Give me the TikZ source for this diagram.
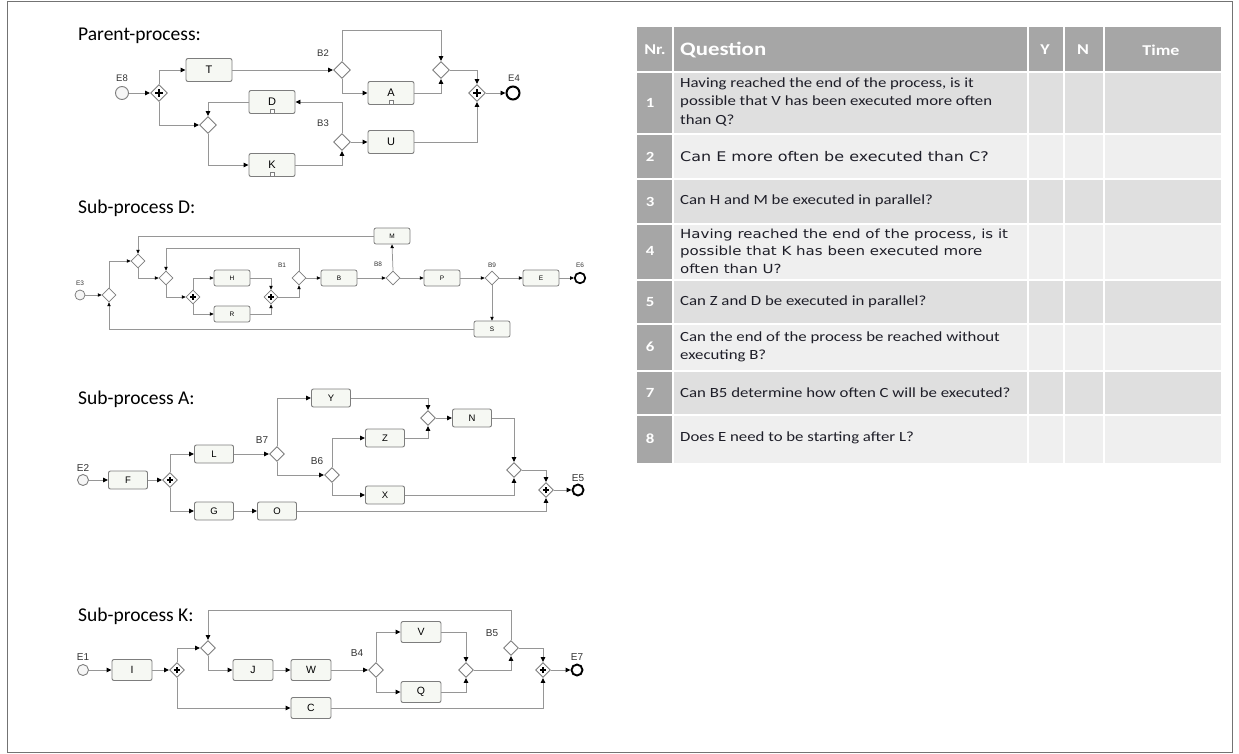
\documentclass[tikz,border=0pt]{standalone}
\usepackage{fontspec}
\usetikzlibrary{shapes.geometric,arrows.meta,calc}
\setmainfont{Liberation Sans}
\newfontfamily\calfont{Carlito}
\newfontfamily\tabfont[FakeStretch=1.2]{Carlito}
\newfontfamily\verfont[FakeStretch=1.2]{DejaVu Sans}
\definecolor{linegray}{RGB}{150,150,150}
\definecolor{boxgray}{RGB}{125,125,125}
\definecolor{taskfill}{RGB}{246,248,243}
\definecolor{hdrgray}{RGB}{166,166,166}
\definecolor{rowA}{RGB}{223,223,223}
\definecolor{rowB}{RGB}{239,239,239}
\definecolor{txtdark}{RGB}{30,30,40}
\begin{document}
\begin{tikzpicture}[x=1pt,y=-1pt,
  flow/.style={draw=linegray,line width=0.9pt,-{Triangle[length=5pt,width=4.5pt,color=black]}},
  flowS/.style={draw=linegray,line width=0.75pt,-{Triangle[length=3.8pt,width=3.4pt,color=black]}},
  task/.style={draw=boxgray,fill=taskfill,rounded corners=2pt,line width=0.9pt,inner sep=0pt},
  taskP/.style={task,minimum width=46pt,minimum height=23pt,font=\fontsize{11}{11}\selectfont},
  taskD/.style={task,minimum width=36pt,minimum height=16pt,line width=0.75pt,font=\fontsize{6.5}{6.5}\selectfont},
  taskA/.style={task,minimum width=39pt,minimum height=18pt,font=\fontsize{9.5}{9.5}\selectfont},
  taskK/.style={task,minimum width=40pt,minimum height=21pt,font=\fontsize{10.5}{10.5}\selectfont},
  gw/.style={diamond,draw=boxgray,fill=white,line width=0.9pt,inner sep=0pt,aspect=1},
  xorP/.style={gw,minimum width=17pt,minimum height=17pt},
  andP/.style={xorP,path picture={\draw[black,line width=1.7pt] (path picture bounding box.center) +(-3.8pt,0) -- +(3.8pt,0) +(0,-3.8pt) -- +(0,3.8pt);}},
  xorD/.style={gw,line width=0.75pt,minimum width=14pt,minimum height=14pt},
  andD/.style={xorD,path picture={\draw[black,line width=1.4pt] (path picture bounding box.center) +(-3pt,0) -- +(3pt,0) +(0,-3pt) -- +(0,3pt);}},
  xorA/.style={gw,minimum width=15pt,minimum height=15pt},
  andA/.style={xorA,path picture={\draw[black,line width=1.5pt] (path picture bounding box.center) +(-3.3pt,0) -- +(3.3pt,0) +(0,-3.3pt) -- +(0,3.3pt);}},
  startev/.style={circle,draw=boxgray,fill=white!93!gray,line width=0.9pt,inner sep=0pt},
  endev/.style={circle,draw=black,line width=2pt,fill=white,inner sep=0pt},
  lbl/.style={inner sep=0pt,text=black!80,font=\fontsize{9.5}{9.5}\selectfont},
  lblD/.style={lbl,font=\fontsize{6.5}{6.5}\selectfont},
  lblA/.style={lbl,font=\fontsize{10}{10}\selectfont},
  marker/.style={draw=boxgray,fill=white,minimum size=3.5pt,inner sep=0pt,line width=0.4pt},
  title/.style={font=\calfont\fontsize{19.5}{19.5}\selectfont,anchor=base west,inner sep=0pt},
  tq/.style={anchor=west,inner sep=0pt,align=left,text=txtdark,font=\tabfont\fontsize{14}{18.5}\selectfont},
  tv/.style={anchor=west,inner sep=0pt,align=left,text=txtdark,font=\verfont\fontsize{12.5}{17.5}\selectfont},
  tn/.style={inner sep=0pt,text=white,font=\tabfont\bfseries\fontsize{14}{14}\selectfont},
  th/.style={inner sep=0pt,text=white,font=\tabfont\bfseries\fontsize{15}{15}\selectfont}
]
\useasboundingbox (0,0) rectangle (1239,753);
\draw[black!55,line width=0.8pt] (7,1) rectangle (1232,752);

%================ Parent process
\node[title] (tP) at (78,40) {Parent-process:};
\node[startev,minimum size=13pt] (E8) at (122,93) {};
\node[lbl] (E8l) at (122,78) {E8};
\node[andP] (P1) at (159,93) {};
\node[taskP] (T) at (209,70) {T};
\node[xorP] (B2) at (342,70) {};
\node[lbl] (B2l) at (323,53) {B2};
\node[xorP] (G1) at (208,125) {};
\node[taskP] (D) at (272,102) {D};
\node[marker] (Dm) at ($(D.south)+(0,-3)$) {};
\node[taskP] (K) at (272,165) {K};
\node[marker] (Km) at ($(K.south)+(0,-3)$) {};
\node[xorP] (B3) at (342,142) {};
\node[lbl] (B3l) at (323,123) {B3};
\node[taskP] (A) at (391,93) {A};
\node[marker] (Am) at ($(A.south)+(0,-3)$) {};
\node[taskP] (U) at (391,142) {U};
\node[xorP] (J1) at (441,70) {};
\node[andP] (P2) at (477,93) {};
\node[endev,minimum size=13pt] (E4) at (513,93) {};
\node[lbl] (E4l) at (514,78) {E4};
\coordinate (c2) at (441,30);

\draw[flow] (E8) -- (P1);
\draw[flow] (P1.north) |- (T.west);
\draw[flow] (T) -- (B2);
\draw[flow] (P1.south) |- (G1.west);
\draw[flow] (D.west) -| (G1.north);
\draw[flow] (G1.south) |- (K.west);
\draw[flow] (K.east) -| (B3.south);
\draw[flow] (B3.north) |- (D.east);
\draw[flow] (B2.north) |- (c2) -- (J1.north);
\draw[flow] (B2.south) |- (A.west);
\draw[flow] (A.east) -| (J1.south);
\draw[flow] (B3) -- (U);
\draw[flow] (J1.east) -| (P2.north);
\draw[flow] (U.east) -| (P2.south);
\draw[flow] (P2) -- (E4);

%================ Sub-process D
\node[title] (tD) at (78,213) {Sub-process D:};
\node[startev,minimum size=10pt,line width=0.75pt] (E3) at (80,295) {};
\node[lblD] (E3l) at (80,283) {E3};
\node[xorD] (G1d) at (109,295) {};
\node[xorD] (G2d) at (138,261) {};
\node[xorD] (G3d) at (166,278) {};
\node[andD] (P1d) at (193,297) {};
\node[taskD] (H) at (232,278) {H};
\node[taskD] (R) at (232,314) {R};
\node[andD] (P2d) at (271,297) {};
\node[xorD] (B1) at (299,278) {};
\node[lblD] (B1l) at (282,265) {B1};
\node[taskD] (Bt) at (339,278) {B};
\node[xorD] (B8) at (393,278) {};
\node[lblD] (B8l) at (378,264) {B8};
\node[taskD] (M) at (392,236) {M};
\node[taskD] (Pt) at (442,278) {P};
\node[xorD] (B9) at (492,278) {};
\node[lblD] (B9l) at (492,265) {B9};
\node[taskD] (Et) at (541,278) {E};
\node[endev,minimum size=10.5pt,line width=1.7pt] (E6) at (580,278) {};
\node[lblD] (E6l) at (580,265) {E6};
\node[taskD] (S) at (492,329) {S};
\coordinate (d1) at (166,248);

\draw[flowS] (E3) -- (G1d);
\draw[flowS] (G1d.north) |- (G2d.west);
\draw[flowS] (M.west) -| (G2d.north);
\draw[flowS] (G2d.south) |- (G3d.west);
\draw[flowS] (B1.north) |- (d1) -- (G3d.north);
\draw[flowS] (G3d.south) |- (P1d.west);
\draw[flowS] (P1d.north) |- (H.west);
\draw[flowS] (P1d.south) |- (R.west);
\draw[flowS] (H.east) -| (P2d.north);
\draw[flowS] (R.east) -| (P2d.south);
\draw[flowS] (P2d.east) -| (B1.south);
\draw[flowS] (B1) -- (Bt);
\draw[flowS] (Bt) -- (B8);
\draw[flowS] (B8.north) -- (M.south);
\draw[flowS] (B8) -- (Pt);
\draw[flowS] (Pt) -- (B9);
\draw[flowS] (B9) -- (Et);
\draw[flowS] (Et) -- (E6);
\draw[flowS] (B9.south) -- (S.north);
\draw[flowS] (S.west) -| (G1d.south);

%================ Sub-process A
\node[title] (tA) at (78,404) {Sub-process A:};
\node[startev,minimum size=11pt] (E2) at (83,480) {};
\node[lblA] (E2l) at (83,468) {E2};
\node[taskA] (F) at (128,480) {F};
\node[andA] (P1a) at (170,480) {};
\node[taskA] (L) at (214,454) {L};
\node[xorA] (B7) at (277,454) {};
\node[lblA] (B7l) at (262,440) {B7};
\node[taskA] (Y) at (331,398) {Y};
\node[xorA] (B6) at (332,475) {};
\node[lblA] (B6l) at (317,461) {B6};
\node[taskA] (G) at (214,511) {G};
\node[taskA] (O) at (277,511) {O};
\node[xorA] (Ja) at (428,418) {};
\node[taskA] (Z) at (385,438) {Z};
\node[taskA] (N) at (472,418) {N};
\node[xorA] (Jb) at (514,470) {};
\node[taskA] (X) at (385,495) {X};
\node[andA] (P2a) at (546,490) {};
\node[endev,minimum size=11pt,line width=1.9pt] (E5) at (578,490) {};
\node[lblA] (E5l) at (578,478) {E5};

\draw[flow] (E2) -- (F);
\draw[flow] (F) -- (P1a);
\draw[flow] (P1a.north) |- (L.west);
\draw[flow] (L) -- (B7);
\draw[flow] (B7.north) |- (Y.west);
\draw[flow] (B7.south) |- (B6.west);
\draw[flow] (P1a.south) |- (G.west);
\draw[flow] (G) -- (O);
\draw[flow] (O.east) -| (P2a.south);
\draw[flow] (Y.east) -| (Ja.north);
\draw[flow] (B6.north) |- (Z.west);
\draw[flow] (Z.east) -| (Ja.south);
\draw[flow] (Ja) -- (N);
\draw[flow] (N.east) -| (Jb.north);
\draw[flow] (B6.south) |- (X.west);
\draw[flow] (X.east) -| (Jb.south);
\draw[flow] (Jb.east) -| (P2a.north);
\draw[flow] (P2a) -- (E5);

%================ Sub-process K
\node[title] (tK) at (78,621) {Sub-process K:};
\node[startev,minimum size=11pt] (E1) at (83,670) {};
\node[lblA] (E1l) at (83,657) {E1};
\node[taskK] (I) at (132,670) {I};
\node[andA] (P1k) at (177,670) {};
\node[xorA] (G1k) at (208,648) {};
\node[taskK] (J) at (253,670) {J};
\node[taskK] (W) at (311,670) {W};
\node[xorA] (B4) at (376,670) {};
\node[lblA] (B4l) at (357,653) {B4};
\node[taskK] (V) at (421,632) {V};
\node[taskK] (Q) at (421,692) {Q};
\node[xorA] (Jk) at (466,670) {};
\node[xorA] (B5) at (511,648) {};
\node[lblA] (B5l) at (492,633) {B5};
\node[andA] (P2k) at (543,670) {};
\node[endev,minimum size=11pt,line width=1.9pt] (E7) at (577,670) {};
\node[lblA] (E7l) at (577,657) {E7};
\node[taskK] (C) at (311,708) {C};
\coordinate (k1) at (208,610);

\draw[flow] (E1) -- (I);
\draw[flow] (I) -- (P1k);
\draw[flow] (P1k.north) |- (G1k.west);
\draw[flow] (B5.north) |- (k1) -- (G1k.north);
\draw[flow] (G1k.south) |- (J.west);
\draw[flow] (J) -- (W);
\draw[flow] (W) -- (B4);
\draw[flow] (B4.north) |- (V.west);
\draw[flow] (B4.south) |- (Q.west);
\draw[flow] (V.east) -| (Jk.north);
\draw[flow] (Q.east) -| (Jk.south);
\draw[flow] (Jk.east) -| (B5.south);
\draw[flow] (B5.east) -| (P2k.north);
\draw[flow] (P2k) -- (E7);
\draw[flow] (P1k.south) |- (C.west);
\draw[flow] (C.east) -| (P2k.south);

%================ Table
\fill[hdrgray] (637,27) rectangle (672,71);
\fill[hdrgray] (674,27) rectangle (1027,71);
\fill[hdrgray] (1029,27) rectangle (1063,71);
\fill[hdrgray] (1065,27) rectangle (1103,71);
\fill[hdrgray] (1105,27) rectangle (1221,71);
\foreach \ya/\yb/\cc in {73/133/rowA,135/178/rowB,180/223/rowA,225/279/rowB,281/323/rowA,325/370/rowB,372/414/rowA,416/463/rowB}{
  \fill[hdrgray] (637,\ya) rectangle (672,\yb);
  \fill[\cc] (674,\ya) rectangle (1027,\yb);
  \fill[\cc] (1029,\ya) rectangle (1063,\yb);
  \fill[\cc] (1065,\ya) rectangle (1103,\yb);
  \fill[\cc] (1105,\ya) rectangle (1221,\yb);
}
\node[th] (hNr) at (655,50) {Nr.};
\node[th,anchor=west,font=\tabfont\bfseries\fontsize{19}{19}\selectfont] (hQ) at (680,50) {Question};
\node[th] (hY) at (1045,50) {Y};
\node[th] (hN) at (1083,50) {N};
\node[th] (hT) at (1161,50) {Time};

\node[tn] (n1) at (650,103) {1};
\node[tn] (n2) at (650,157) {2};
\node[tn] (n3) at (650,202) {3};
\node[tn] (n4) at (650,251) {4};
\node[tn] (n5) at (650,302) {5};
\node[tn] (n6) at (650,347) {6};
\node[tn] (n7) at (650,393) {7};
\node[tn] (n8) at (650,439) {8};

\node[tq] (q1) at (680,102) {Having reached the end of the process, is it\\possible that V has been executed more often\\than Q?};
\node[tv,font=\verfont\fontsize{13.3}{17.5}\selectfont] (q2) at (680,157) {Can E more often be executed than C?};
\node[tq] (q3) at (680,201) {Can H and M be executed in parallel?};
\node[tv] (q4) at (680,251) {Having reached the end of the process, is it\\possible that K has been executed more\\often than U?};
\node[tq] (q5) at (680,302) {Can Z and D be executed in parallel?};
\node[tq] (q6) at (680,347) {Can the end of the process be reached without\\executing B?};
\node[tq] (q7) at (680,393) {Can B5 determine how often C will be executed?};
\node[tq] (q8) at (680,438) {Does E need to be starting after L?};
\end{tikzpicture}
\end{document}
